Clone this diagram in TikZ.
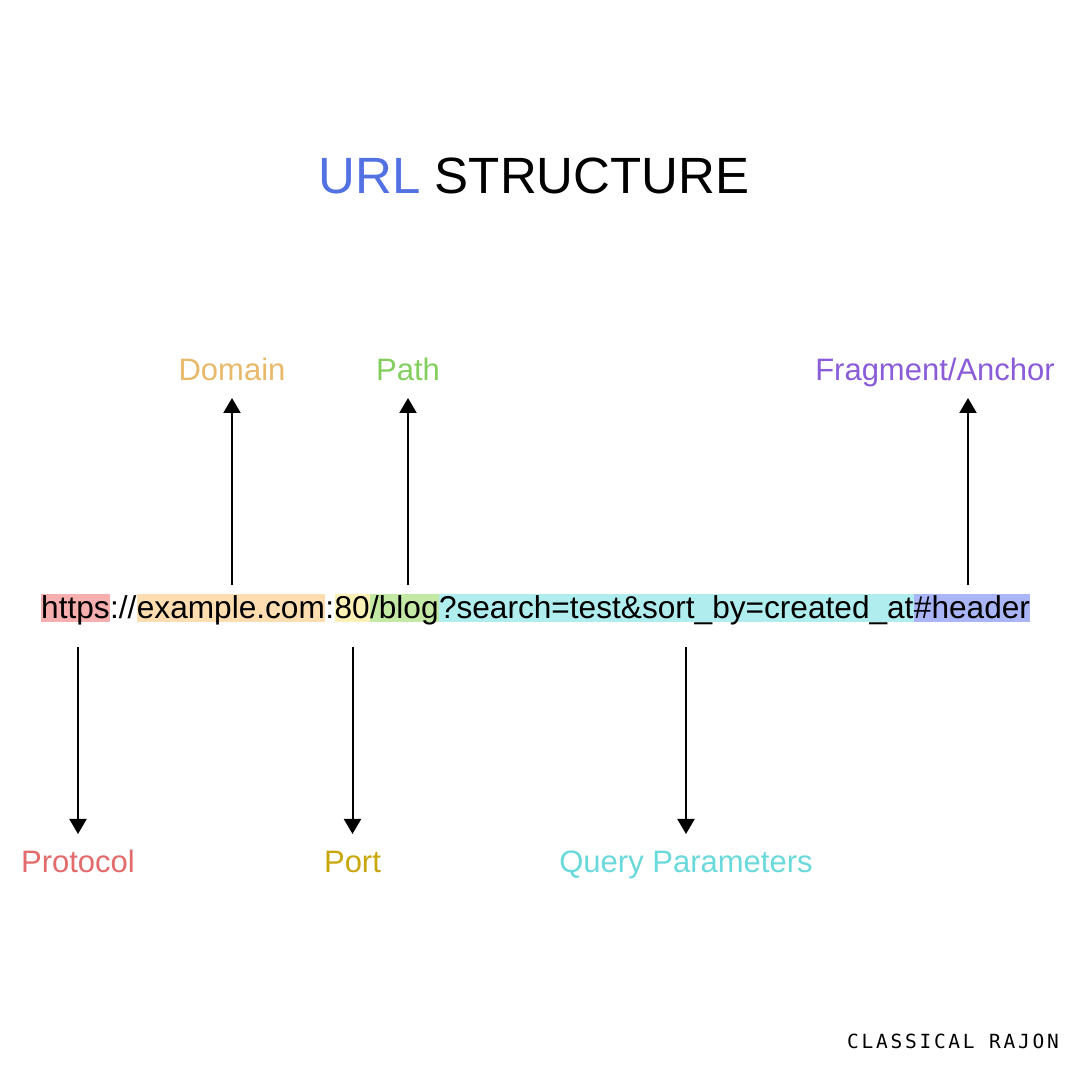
\documentclass[tikz,border=0pt]{standalone}
\usepackage{fontspec}
\setmainfont{Liberation Sans}
\newfontfamily\wmfont[LetterSpace=14]{DejaVu Sans Mono}
\usetikzlibrary{arrows.meta}
\definecolor{cProtB}{HTML}{F7AEAE}
\definecolor{cDomB}{HTML}{FEDDB1}
\definecolor{cPortB}{HTML}{FFF1B5}
\definecolor{cPathB}{HTML}{C4E9A4}
\definecolor{cQueryB}{HTML}{B0EDEE}
\definecolor{cFragB}{HTML}{A9B5F6}
\definecolor{cProt}{HTML}{E36B6B}
\definecolor{cDom}{HTML}{E9B96B}
\definecolor{cPort}{HTML}{C9A60A}
\definecolor{cPath}{HTML}{82CF5E}
\definecolor{cQuery}{HTML}{6AD9DB}
\definecolor{cFrag}{HTML}{8A5CD8}
\definecolor{cURL}{HTML}{5271E3}
\newlength\urlw
\begin{document}
\settowidth\urlw{\fontsize{10pt}{12pt}\selectfont https://example.com:80/blog?search=test\&sort\_by=created\_at\#header}
\begin{tikzpicture}[x=1pt,y=1pt]
\pgfmathsetmacro\ufs{10*986/\urlw}
\tikzset{
  seg/.style={inner xsep=0pt, inner ysep=0pt, text height=25pt, text depth=3pt,
    anchor=base west, font=\fontsize{\ufs pt}{\ufs pt}\selectfont},
  lab/.style={inner sep=0pt, anchor=base, font=\fontsize{31pt}{36pt}\selectfont},
  arr/.style={line width=2pt, -{Triangle[width=17pt,length=15pt]}}
}
\useasboundingbox (0,0) rectangle (1080,1080);
\fill[white] (0,0) rectangle (1080,1080);
% title
\node[anchor=base, inner sep=0pt, font=\fontsize{51pt}{58pt}\selectfont] (title) at (534,886) {\textcolor{cURL}{URL} STRUCTURE};
% URL segments
\node[seg, fill=cProtB] (sProt) at (41,461) {https};
\node[seg] (sSep) at (sProt.base east) {://};
\node[seg, fill=cDomB] (sDom) at (sSep.base east) {example.com};
\node[seg] (sCol) at (sDom.base east) {:};
\node[seg, fill=cPortB] (sPort) at (sCol.base east) {80};
\node[seg, fill=cPathB] (sPath) at (sPort.base east) {/blog};
\node[seg, fill=cQueryB] (sQuery) at (sPath.base east) {?search=test\&sort\_by=created\_at};
\node[seg, fill=cFragB] (sFrag) at (sQuery.base east) {\#header};
% labels
\node[lab, text=cDom] (lDom) at (232,699) {Domain};
\node[lab, text=cPath] (lPath) at (408,699) {Path};
\node[lab, text=cFrag] (lFrag) at (935,699) {Fragment/Anchor};
\node[lab, text=cProt] (lProt) at (78,207) {Protocol};
\node[lab, text=cPort] (lPort) at (352.5,207) {Port};
\node[lab, text=cQuery] (lQuery) at (686,207) {Query Parameters};
% arrow levels
\coordinate (topStart) at (0,495);
\coordinate (topTip) at (0,682);
\coordinate (botStart) at (0,433);
\coordinate (botTip) at (0,246);
\coordinate (fragX) at (968,0);
\draw[arr] (lDom |- topStart) -- (lDom |- topTip);
\draw[arr] (lPath |- topStart) -- (lPath |- topTip);
\draw[arr] (fragX |- topStart) -- (fragX |- topTip);
\draw[arr] (lProt |- botStart) -- (lProt |- botTip);
\draw[arr] (lPort |- botStart) -- (lPort |- botTip);
\draw[arr] (lQuery |- botStart) -- (lQuery |- botTip);
% watermark
\node[anchor=base east, inner sep=0pt, font=\wmfont\fontsize{19.5pt}{21pt}\selectfont] (wm) at (1059,31) {CLASSICAL RAJON};
\end{tikzpicture}
\end{document}
